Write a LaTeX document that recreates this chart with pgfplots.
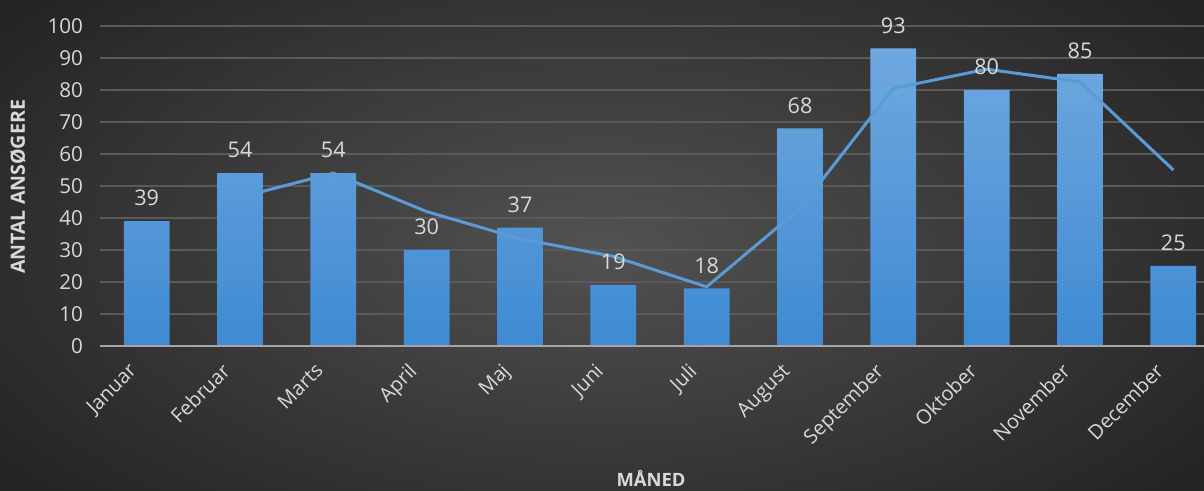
\documentclass[border=0pt]{standalone}
\usepackage{pgfplots}
\pgfplotsset{compat=1.18}
\usepackage{fontspec}
\setmainfont{Open Sans}
\definecolor{txt}{HTML}{D9D9D9}
\definecolor{gridc}{HTML}{5A5A5A}
\definecolor{bartop}{HTML}{6FA8DF}
\definecolor{barbot}{HTML}{3F8AD2}
\definecolor{lineblue}{HTML}{5B9BD5}
\begin{document}
\begin{tikzpicture}[x=0.5pt,y=0.5pt]
\useasboundingbox (0,0) rectangle (1204,491);
\shade[inner color=black!68, outer color=black!87] (-200,-150) rectangle (1404,641);
\begin{scope}
\clip (0,0) rectangle (1204,491);
\begin{axis}[
  at={(50pt,72.5pt)}, anchor=south west,
  scale only axis, width=560pt, height=160pt,
  xmin=-0.5, xmax=11.5, ymin=0, ymax=100,
  ytick={0,10,...,100},
  xtick={0,...,11},
  xticklabels={Januar,Februar,Marts,April,Maj,Juni,Juli,August,September,Oktober,November,December},
  axis line style={draw=none},
  major tick length=0pt,
  ymajorgrids=true, xmajorgrids=false, grid style={draw=gridc, line width=0.75pt},
  /pgf/number format/assume math mode=true,
  yticklabel style={font=\fontsize{10.3}{12}\selectfont, text=txt, anchor=east, xshift=-5pt},
  xticklabel style={font=\fontsize{10}{12}\selectfont, text=txt, rotate=45, anchor=north east, xshift=-9pt, yshift=4.7pt},
  xlabel={MÅNED}, ylabel={ANTAL ANSØGERE},
  xlabel style={font=\bfseries\fontsize{9.2}{11}\selectfont, text=txt, at={(rel axis cs:0.492,-0.4125)}, anchor=center},
  ylabel style={font=\bfseries\fontsize{9.8}{11}\selectfont, text=txt, at={(rel axis cs:-0.0732,0.497)}, anchor=center, rotate=0},
  clip=false,
]
\addplot[ybar, bar width=0.49, draw=none, top color=bartop, bottom color=barbot,
  nodes near coords, point meta=explicit symbolic,
  every node near coord/.append style={font=\fontsize{10.8}{12}\selectfont, text=txt, anchor=south, yshift=4pt}]
  table[meta=lab] {
x y lab
0 39 39
1 54 54
2 54 54
3 30 30
4 37 37
5 19 19
6 18 18
7 68 68
8 93 93
9 80 80
10 85 85
11 25 25
};
\draw[black!35, line width=1pt] (axis cs:-0.5,0) -- (axis cs:11.5,0);
\addplot[lineblue, line width=1.5pt, mark=none] coordinates {
(1,46.5) (2,54) (3,42) (4,33.5) (5,28) (6,18.5) (7,43) (8,80.5) (9,86.5) (10,82.5) (11,55)
};
\end{axis}
\end{scope}
\end{tikzpicture}
\end{document}
